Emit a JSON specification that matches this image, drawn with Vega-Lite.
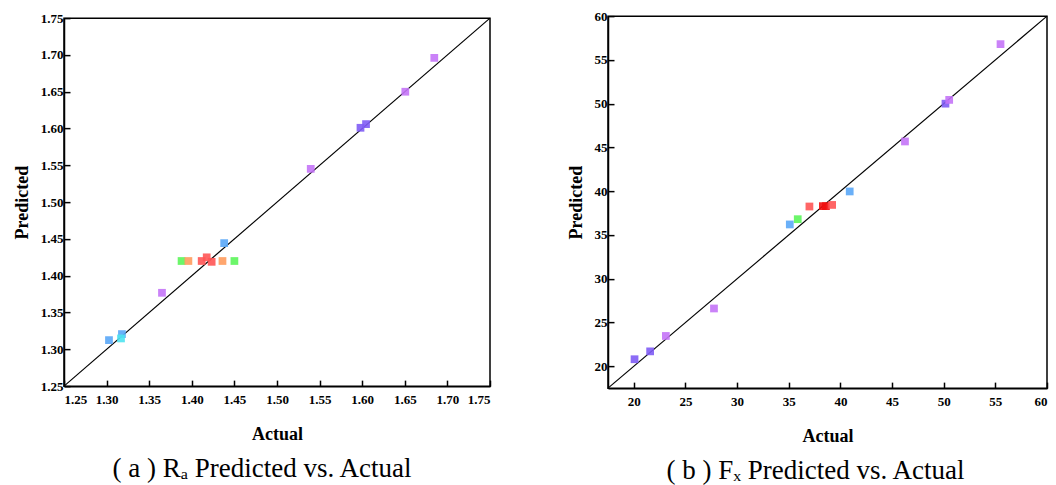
{
  "$schema": "https://vega.github.io/schema/vega-lite/v6.json",
  "padding": {"left": 12, "top": 7, "right": 5, "bottom": 0},
  "spacing": 72,
  "center": true,
  "datasets": {
    "ra": [
      {"actual": 1.3028, "pred": 1.3125, "c": "blue"},
      {"actual": 1.318, "pred": 1.3207, "c": "blue"},
      {"actual": 1.3169, "pred": 1.3148, "c": "cyan"},
      {"actual": 1.365, "pred": 1.3768, "c": "purple"},
      {"actual": 1.388, "pred": 1.420, "c": "green"},
      {"actual": 1.396, "pred": 1.420, "c": "orange"},
      {"actual": 1.4116, "pred": 1.420, "c": "red"},
      {"actual": 1.4175, "pred": 1.425, "c": "red"},
      {"actual": 1.4233, "pred": 1.4189, "c": "red"},
      {"actual": 1.436, "pred": 1.420, "c": "orange"},
      {"actual": 1.450, "pred": 1.420, "c": "green"},
      {"actual": 1.438, "pred": 1.4443, "c": "blue"},
      {"actual": 1.5396, "pred": 1.5452, "c": "purple"},
      {"actual": 1.598, "pred": 1.601, "c": "violet"},
      {"actual": 1.6045, "pred": 1.606, "c": "violet"},
      {"actual": 1.6506, "pred": 1.650, "c": "purple"},
      {"actual": 1.6846, "pred": 1.696, "c": "purple"}
    ],
    "fx": [
      {"actual": 20.07, "pred": 20.8, "c": "violet"},
      {"actual": 21.58, "pred": 21.7, "c": "violet"},
      {"actual": 23.1, "pred": 23.46, "c": "purple"},
      {"actual": 27.76, "pred": 26.6, "c": "purple"},
      {"actual": 35.1, "pred": 36.2, "c": "blue"},
      {"actual": 35.87, "pred": 36.8, "c": "green"},
      {"actual": 37.0, "pred": 38.25, "c": "red"},
      {"actual": 38.3, "pred": 38.29, "c": "darkred"},
      {"actual": 38.6, "pred": 38.29, "c": "darkred"},
      {"actual": 39.2, "pred": 38.43, "c": "red"},
      {"actual": 40.9, "pred": 39.97, "c": "blue"},
      {"actual": 46.25, "pred": 45.68, "c": "purple"},
      {"actual": 50.17, "pred": 50.0, "c": "violet"},
      {"actual": 50.53, "pred": 50.43, "c": "purple"},
      {"actual": 55.5, "pred": 56.8, "c": "purple"}
    ],
    "raLine": [{"v": 1.25}, {"v": 1.75}],
    "fxLine": [{"v": 17.5}, {"v": 60}]
  },
  "hconcat": [
    {
      "width": 426,
      "height": 368,
      "title": {"text": "( a ) Rₐ Predicted vs. Actual", "orient": "bottom", "dx": -15},
      "resolve": {"axis": {"x": "independent"}},
      "layer": [
        {
          "data": {"name": "raLine"},
          "mark": {"type": "line", "color": "black", "strokeWidth": 1.2},
          "encoding": {
            "x": {"field": "v", "type": "quantitative", "scale": {"domain": [1.25, 1.75], "nice": false, "zero": false},
              "axis": {"title": "Actual", "orient": "bottom", "labelOverlap": false, "tickCount": 11, "values": [1.25, 1.3, 1.35, 1.4, 1.45, 1.5, 1.55, 1.6, 1.65, 1.7, 1.75], "format": ".2f"}},
            "y": {"field": "v", "type": "quantitative", "scale": {"domain": [1.25, 1.75], "nice": false, "zero": false},
              "axis": {"title": "Predicted", "labelOverlap": false, "tickCount": 11, "values": [1.25, 1.3, 1.35, 1.4, 1.45, 1.5, 1.55, 1.6, 1.65, 1.7, 1.75], "format": ".2f"}}
          }
        },
        {
          "data": {"name": "ra"},
          "mark": {"type": "square", "size": 60, "opacity": 0.9, "filled": true},
          "encoding": {
            "x": {"field": "actual", "type": "quantitative",
              "axis": {"orient": "top", "title": null, "labels": false, "ticks": false, "domain": false, "minExtent": 10, "maxExtent": 10}},
            "y": {"field": "pred", "type": "quantitative"},
            "color": {"field": "c", "type": "nominal", "legend": null,
              "scale": {"domain": ["purple", "violet", "blue", "cyan", "green", "orange", "red", "darkred"],
                        "range": ["#c474f7", "#7f5cf5", "#5aa7f7", "#4fe3f0", "#5cf55a", "#ff9c5e", "#ff5555", "#f01010"]}}
          }
        }
      ]
    },
    {
      "width": 439,
      "height": 372,
      "title": {"text": "( b ) Fₓ Predicted vs. Actual", "orient": "bottom", "dx": -12},
      "layer": [
        {
          "data": {"name": "fxLine"},
          "mark": {"type": "line", "color": "black", "strokeWidth": 1.2},
          "encoding": {
            "x": {"field": "v", "type": "quantitative", "scale": {"domain": [17.5, 60], "nice": false, "zero": false},
              "axis": {"title": "Actual", "labelOverlap": false, "tickCount": 9, "values": [20, 25, 30, 35, 40, 45, 50, 55, 60]}},
            "y": {"field": "v", "type": "quantitative", "scale": {"domain": [17.5, 60], "nice": false, "zero": false},
              "axis": {"title": "Predicted", "labelOverlap": false, "tickCount": 9, "values": [20, 25, 30, 35, 40, 45, 50, 55, 60]}}
          }
        },
        {
          "data": {"name": "fx"},
          "mark": {"type": "square", "size": 60, "opacity": 0.9, "filled": true},
          "encoding": {
            "x": {"field": "actual", "type": "quantitative"},
            "y": {"field": "pred", "type": "quantitative"},
            "color": {"field": "c", "type": "nominal", "legend": null,
              "scale": {"domain": ["purple", "violet", "blue", "cyan", "green", "orange", "red", "darkred"],
                        "range": ["#c474f7", "#7f5cf5", "#5aa7f7", "#4fe3f0", "#5cf55a", "#ff9c5e", "#ff5555", "#f01010"]}}
          }
        }
      ]
    }
  ],
  "config": {
    "font": "Liberation Serif",
    "view": {"stroke": "black", "strokeWidth": 1.5},
    "axis": {
      "grid": false,
      "labelOverlap": false,
      "domainColor": "black",
      "domainWidth": 1.5,
      "tickColor": "black",
      "tickWidth": 1.5,
      "tickSize": -6,
      "labelFont": "Liberation Serif",
      "labelFontWeight": "bold",
      "labelFontSize": 13,
      "labelColor": "black",
      "titleFont": "Liberation Serif",
      "titleFontWeight": "bold",
      "titleFontSize": 18,
      "titleColor": "black"
    },
    "axisX": {"labelPadding": 13, "titlePadding": 19},
    "axisY": {"labelPadding": 7, "titlePadding": 9},
    "title": {"font": "Liberation Serif", "fontSize": 27, "fontWeight": "normal", "color": "black", "offset": 13}
  }
}
